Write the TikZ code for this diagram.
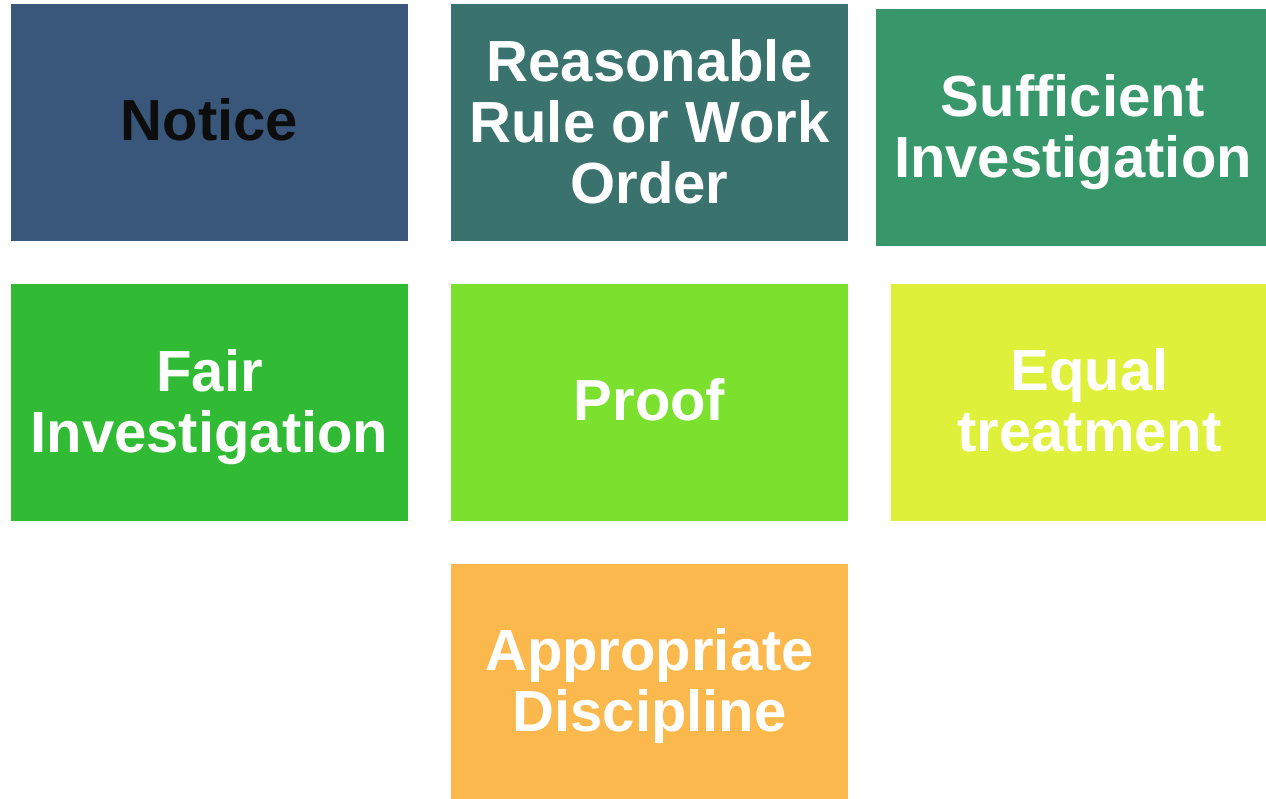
\documentclass[tikz,border=0pt]{standalone}
\usepackage{fontspec}
\setmainfont{Liberation Sans}
\definecolor{cNotice}{HTML}{38577A}
\definecolor{cRule}{HTML}{3A736E}
\definecolor{cSuff}{HTML}{37976A}
\definecolor{cFair}{HTML}{31BB35}
\definecolor{cProof}{HTML}{7BE02E}
\definecolor{cEqual}{HTML}{DFF03A}
\definecolor{cDisc}{HTML}{FBB84C}
\definecolor{darktext}{HTML}{0D0D0D}
\tikzset{
  tile/.style={rectangle, draw=none, inner sep=0pt,
    minimum width=397pt, minimum height=237pt},
  caption/.style={inner sep=0pt, align=center, text=white,
    font=\bfseries\fontsize{58}{61}\selectfont}
}
\begin{document}
\begin{tikzpicture}[x=1pt,y=-1pt]
\useasboundingbox (0,0) rectangle (1266,799);
% tiles
\node[tile, fill=cNotice] (notice) at (209.5,122.5) {};
\node[tile, fill=cRule] (rule) at (649.5,122.5) {};
\node[tile, fill=cSuff, minimum width=390pt] (suff) at (1071,127.5) {};
\node[tile, fill=cFair] (fair) at (209.5,402.5) {};
\node[tile, fill=cProof] (proof) at (649.5,402.5) {};
\node[tile, fill=cEqual, minimum width=375pt] (equal) at (1078.5,402.5) {};
\node[tile, fill=cDisc, minimum height=235pt] (disc) at (649.5,681.5) {};
% captions
\node[caption, text=darktext] (noticeT) at ([yshift=3pt]notice.center) {Notice};
\node[caption] (ruleT) at ([yshift=1pt]rule.center) {Reasonable\\Rule or Work\\Order};
\node[caption] (suffT) at ([xshift=2pt,yshift=-5pt]suff.center) {Sufficient\\Investigation};
\node[caption] (fairT) at ([yshift=-5pt]fair.center) {Fair\\Investigation};
\node[caption] (proofT) at ([yshift=3pt]proof.center) {Proof};
\node[caption] (equalT) at ([xshift=11pt,yshift=2pt]equal.center) {Equal\\treatment};
\node[caption] (discT) at ([yshift=-5pt]disc.center) {Appropriate\\Discipline};
\end{tikzpicture}
\end{document}
